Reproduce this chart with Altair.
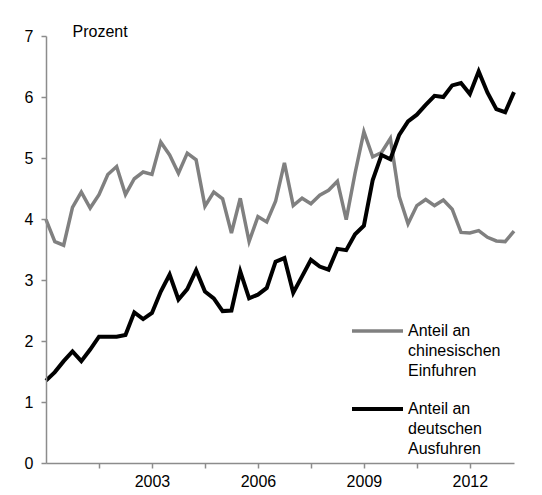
import altair as alt
import pandas as pd

# Quarterly data 2000Q1 .. 2013Q2
years = list(range(2000, 2014))
quarters = [f"{y}Q{q}" for y in years for q in range(1, 5)][:54]

china_imports_share = [
    3.99, 3.63, 3.57, 4.19, 4.44, 4.18, 4.40, 4.73, 4.86, 4.40,
    4.66, 4.77, 4.73, 5.26, 5.05, 4.75, 5.08, 4.97, 4.21, 4.44,
    4.33, 3.77, 4.34, 3.63, 4.04, 3.95, 4.29, 4.92, 4.22, 4.34,
    4.25, 4.39, 4.47, 4.62, 3.99, 4.75, 5.43, 5.02, 5.09, 5.32,
    4.37, 3.92, 4.22, 4.32, 4.22, 4.31, 4.16, 3.78, 3.77, 3.81,
    3.70, 3.64, 3.63, 3.80,
]
german_exports_share = [
    1.35, 1.49, 1.67, 1.83, 1.67, 1.86, 2.07, 2.07, 2.07, 2.10,
    2.47, 2.36, 2.46, 2.81, 3.09, 2.68, 2.85, 3.16, 2.81, 2.70,
    2.49, 2.50, 3.14, 2.70, 2.76, 2.87, 3.30, 3.36, 2.79, 3.06,
    3.33, 3.22, 3.17, 3.51, 3.49, 3.75, 3.89, 4.64, 5.05, 4.98,
    5.38, 5.60, 5.71, 5.87, 6.02, 6.00, 6.19, 6.23, 6.05, 6.42,
    6.07, 5.80, 5.75, 6.08,
]
year_labels = ["2000Q1", "2003Q1", "2006Q1", "2009Q1", "2012Q1"]
series_names = ["Anteil an chinesischen Einfuhren", "Anteil an deutschen Ausfuhren"]
legend_china = ["Anteil an", "chinesischen", "Einfuhren"]
legend_germany = ["Anteil an", "deutschen", "Ausfuhren"]

df = pd.concat([
    pd.DataFrame({"quarter": quarters, "series": series_names[0], "value": china_imports_share}),
    pd.DataFrame({"quarter": quarters, "series": series_names[1], "value": german_exports_share}),
], ignore_index=True)
one_row = pd.DataFrame({"k": [0]})

FONT = "Liberation Sans"
GRAY = "#808080"
AXIS = "#8c8c8c"
FS = 16

label_expr = (
    "indexof(" + str(year_labels) + ", datum.value) >= 0 ? slice(datum.value, 0, 4) : ''"
)

lines = alt.Chart(df).mark_line().encode(
    x=alt.X(
        "quarter:O",
        sort=quarters,
        scale=alt.Scale(type="point", padding=0),
        axis=alt.Axis(
            values=quarters[::6],
            labelExpr=label_expr,
            labelAngle=0,
            title=None,
            domainColor=AXIS,
            domainWidth=1.5,
            tickColor=AXIS,
            tickWidth=1.5,
            tickSize=5,
            labelPadding=5,
            labelFontSize=FS,
            labelFont=FONT,
            labelColor="black",
            grid=False,
            zindex=1,
        ),
    ),
    y=alt.Y(
        "value:Q",
        scale=alt.Scale(domain=[0, 7], nice=False),
        axis=alt.Axis(
            values=[0, 1, 2, 3, 4, 5, 6, 7],
            format="d",
            title="Prozent",
            titleAngle=0,
            titleAlign="left",
            titleBaseline="middle",
            titleX=26,
            titleY=-5,
            titleFontWeight="normal",
            titleFontSize=FS,
            titleFont=FONT,
            titleColor="black",
            domainColor=AXIS,
            domainWidth=1.5,
            tickColor=AXIS,
            tickWidth=1.5,
            tickSize=5,
            labelPadding=8,
            labelFontSize=FS,
            labelFont=FONT,
            labelColor="black",
            grid=False,
            zindex=1,
        ),
    ),
    color=alt.Color(
        "series:N",
        scale=alt.Scale(domain=series_names, range=[GRAY, "black"]),
        legend=None,
    ),
    strokeWidth=alt.StrokeWidth(
        "series:N",
        scale=alt.Scale(domain=series_names, range=[3.5, 4]),
        legend=None,
    ),
)

leg_rule_china = alt.Chart(one_row).mark_rule(color=GRAY, strokeWidth=3.5).encode(
    x=alt.value(306), x2=alt.value(357), y=alt.value(295)
)
leg_text_china = alt.Chart(one_row).mark_text(
    align="left", baseline="middle", fontSize=FS, font=FONT, lineHeight=20, color="black"
).encode(x=alt.value(362), y=alt.value(295), text=alt.value(legend_china))
leg_rule_ger = alt.Chart(one_row).mark_rule(color="black", strokeWidth=4).encode(
    x=alt.value(306), x2=alt.value(357), y=alt.value(373)
)
leg_text_ger = alt.Chart(one_row).mark_text(
    align="left", baseline="middle", fontSize=FS, font=FONT, lineHeight=20, color="black"
).encode(x=alt.value(362), y=alt.value(373), text=alt.value(legend_germany))

chart = alt.layer(
    lines, leg_rule_china, leg_text_china, leg_rule_ger, leg_text_ger
).properties(
    width=468,
    height=427,
    padding={"left": 16, "top": 15, "right": 10, "bottom": 10},
).configure_view(strokeWidth=0)

chart.save("out.html", embed_options={"renderer": "svg", "actions": False})
